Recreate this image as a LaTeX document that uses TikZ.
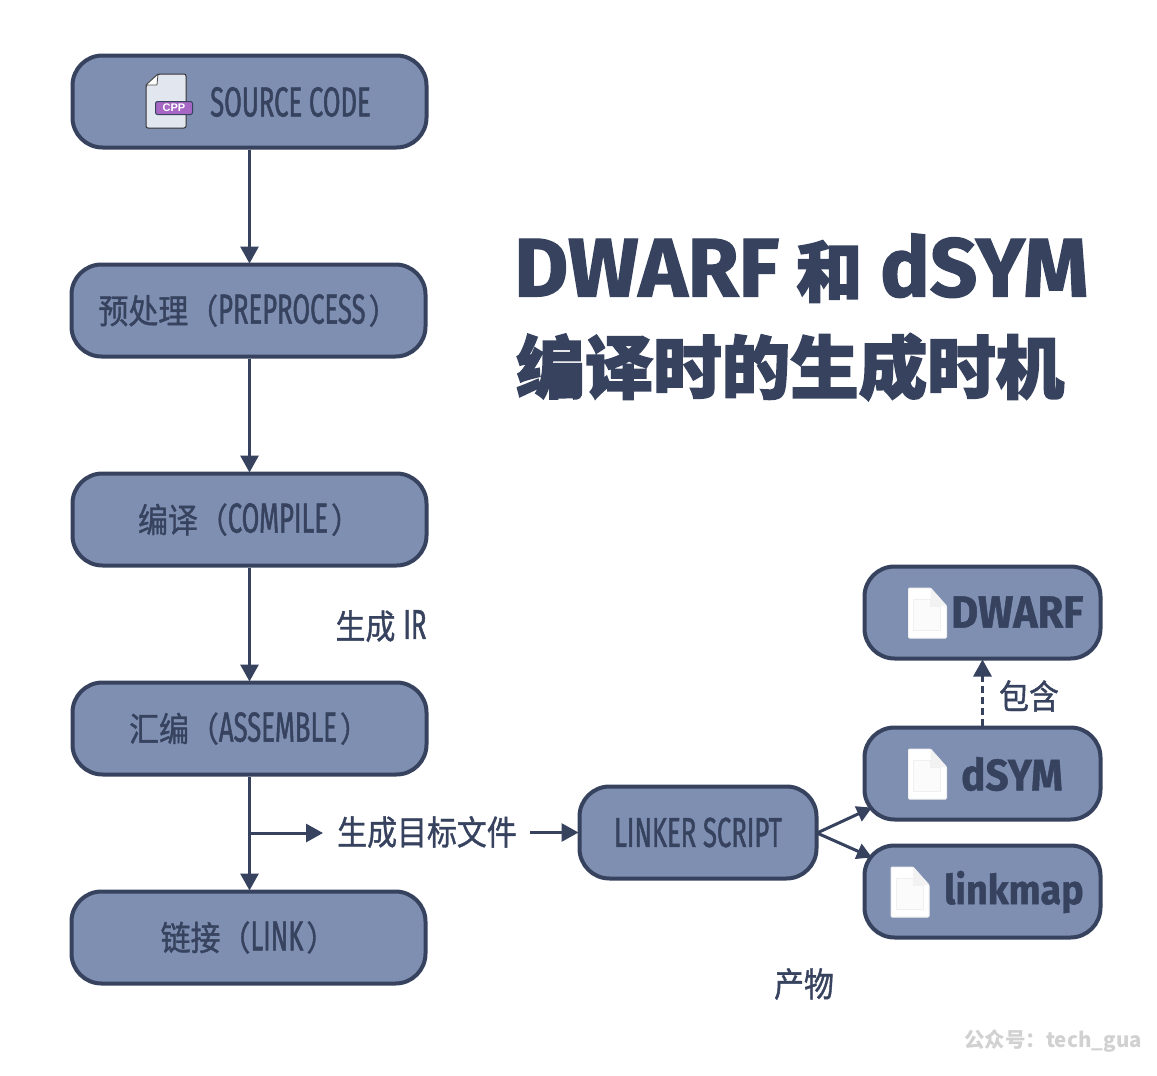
\documentclass[tikz,border=0pt]{standalone}
\usepackage{fontspec}
\usetikzlibrary{arrows.meta}
\setmainfont{Noto Sans CJK SC}
\newfontfamily\narrowcjk[FakeStretch=0.88,FakeBold=1.1]{Noto Sans CJK SC}
\newfontfamily\narrowlat[FakeStretch=0.61,FakeBold=1.1]{Fira Sans}
\newfontfamily\boldlat[BoldFeatures={FakeStretch=0.92,FakeBold=1}]{Fira Sans}
\newfontfamily\heavycjk[FakeBold=2.4]{Noto Sans CJK SC Black}
\newfontfamily\heavylat[BoldFeatures={FakeBold=1.5}]{Fira Sans}
\newfontfamily\cppfont{Liberation Sans}
\definecolor{ink}{HTML}{36425E}
\definecolor{boxfill}{HTML}{7F8FB2}
\definecolor{sheet}{HTML}{E2E6EF}
\definecolor{cppfill}{HTML}{A566C4}
\tikzset{
  x=1pt,y=-1pt,
  flow/.style={draw=ink,line width=4pt,fill=boxfill,rounded corners=30pt,minimum height=92pt,inner sep=0pt,text=ink},
  big/.style={flow,minimum width=354pt},
  small/.style={flow,minimum width=236pt},
  lab/.style={text=ink,inner sep=0pt},
  conn/.style={draw=ink,line width=3pt,-{Triangle[length=17pt,width=18pt]},shorten >=-1pt},
  mini/.style={conn,-{Triangle[length=15pt,width=16pt]}},
  pagesheet/.pic={
    \draw[draw=white!88!gray,line width=1pt,fill=white,rounded corners=1pt] (-19,-25) -- (3,-25) -- (19,-7) -- (19,25) -- (-19,25) -- cycle;
    \draw[draw=black!6,line width=.8pt,fill=white!97!gray] (-14,-14) -- (3,-14) -- (3,-7) -- (13,-7) -- (13,17) -- (-14,17) -- cycle;
    \fill[black!5] (3,-25) -- (19,-7) -- (3,-7) -- cycle;
  }
}
\newcommand{\lt}[1]{{\narrowlat\fontsize{42}{44}\selectfont #1}}
\newcommand{\zh}[1]{{\narrowcjk\fontsize{34}{40}\selectfont #1}}
\begin{document}
\begin{tikzpicture}
\useasboundingbox (0,0) rectangle (1157,1076);
% flow boxes
\node[big] (src) at (249.5,101.5) {};
\node[big] (pre) at (248.5,310.5) {\zh{预处理（}\lt{PREPROCESS}\kern3pt\zh{）}};
\node[big] (cmp) at (249.5,519.5) {\zh{编译（}\lt{COMPILE}\kern3pt\zh{）}};
\node[big] (asm) at (249.5,728.5) {\zh{汇编（}\lt{ASSEMBLE}\kern3pt\zh{）}};
\node[big] (lnk) at (248.5,937.5) {\zh{链接（}\lt{LINK}\kern3pt\zh{）}};
\node[small,minimum width=237pt] (script) at (698,832.5) {\lt{LINKER SCRIPT}};
\node[small] (dwarf) at (982.5,612.5) {};
\node[small] (dsym) at (982.5,773.5) {};
\node[small] (lmap) at (982.5,891.5) {};
% box contents
\node[anchor=west,text=ink,inner sep=0pt] (srct) at (210,102) {\lt{SOURCE CODE}};
\node[anchor=west,text=ink,inner sep=0pt] (dwarft) at (951,612) {{\boldlat\bfseries\fontsize{45}{46}\selectfont DWARF}};
\node[anchor=west,text=ink,inner sep=0pt] (dsymt) at (961,774) {{\boldlat\bfseries\fontsize{44}{46}\selectfont dSYM}};
\node[anchor=west,text=ink,inner sep=0pt] (lmapt) at (944,892) {{\boldlat\bfseries\fontsize{41}{44}\selectfont linkmap}};
% source file icon
\draw[draw=black!80,line width=1pt,fill=sheet,rounded corners=2pt] (146,85) -- (158,74) -- (186,74) -- (186,128) -- (146,128) -- cycle;
\draw[draw=black!70,line width=.8pt,fill=white] (146,85) -- (158,74) -- (157,85) -- cycle;
\node[draw=ink,line width=1pt,fill=cppfill,rounded corners=2pt,minimum width=37pt,minimum height=13pt,inner sep=0pt,text=white,font=\cppfont\bfseries\fontsize{11}{12}\selectfont] (cpp) at (174,108) {CPP};
% page icons
\pic at (927.5,613) {pagesheet};
\pic at (927.5,774) {pagesheet};
\pic at (910,892) {pagesheet};
% labels
\node[lab] (ir) at (381,626) {\zh{生成}\kern8pt\lt{IR}};
\node[lab] (obj) at (427,832) {\zh{生成目标文件}};
\node[lab] (incl) at (1029,696) {\zh{包含}};
\node[lab] (prod) at (804,984) {\zh{产物}};
\node[inner sep=0pt,text=black!18,font=\fontsize{20.5}{26}\selectfont\bfseries,anchor=east] (wm) at (1142,1041) {公众号：tech\_gua};
\node[inner sep=0pt,anchor=west,text=ink] (t1) at (514,268) {{\heavylat\bfseries\fontsize{83}{90}\selectfont DWARF}\kern17pt{\heavycjk\fontsize{66}{90}\selectfont 和}\kern18pt{\heavylat\bfseries\fontsize{83}{90}\selectfont dSYM}};
\node[inner sep=0pt,anchor=west,text=ink] (t2) at (516,367) {{\heavycjk\fontsize{68.5}{80}\selectfont 编译时的生成时机}};
% connectors
\coordinate (branch) at (249.5,833);
\draw[conn] (src.south) -- (src.south |- pre.north);
\draw[conn] (pre.south -| src.south) -- (src.south |- cmp.north);
\draw[conn] (cmp.south) -- (asm.north);
\draw[conn] (asm.south) -- (asm.south |- lnk.north);
\draw[conn] (branch) -- (322,833) coordinate (objin);
\draw[conn] (530,832.5) coordinate (objout) -- (script.west);
\coordinate (sc) at (817,833);
\coordinate (dsin) at (871,808);
\coordinate (lmin) at (871,857);
\draw[mini] (sc) -- (dsin);
\draw[mini] (sc) -- (lmin);
\draw[conn,dashed,dash pattern=on 7pt off 4pt,-{Triangle[length=17pt,width=18pt]}] (dsym.north) -- (dwarf.south);
\end{tikzpicture}
\end{document}
